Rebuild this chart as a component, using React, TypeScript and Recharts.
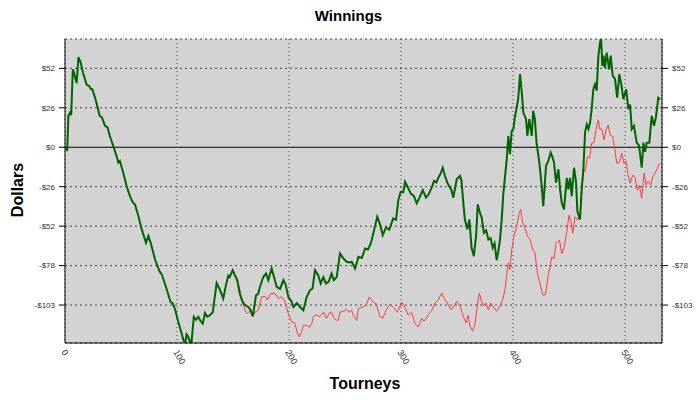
import { LineChart, Line, XAxis, YAxis, CartesianGrid } from "recharts";

// tourney number / running winnings
const WIN_T = [
  0, 1, 2, 3, 4.5, 5.5, 7, 8, 10.4, 12, 14, 16, 19.3, 21.7, 23.2, 24.4, 26.8, 28.8, 31, 33,
  35.7, 38, 40, 43, 46, 47.6, 49, 52, 55, 58, 60.4, 62.5, 65.5, 68.5, 72.3, 74.4, 76.5, 80.4, 84.2, 86.5,
  90.8, 94.3, 96, 98.2, 101, 104, 106, 107.5, 108.6, 110, 111.6, 113, 115, 117, 119, 121, 123, 125, 127, 129.5,
  132, 133, 135.4, 137.8, 141.3, 143.8, 145.8, 147, 149.7, 151.8, 153.8, 156, 158.6, 160.7, 163.7, 165.8, 167.6, 168.5, 170.5, 172.5,
  174, 177, 179.5, 181.5, 184.5, 186.6, 189, 192, 195, 197, 199.4, 202.4, 204, 207, 209.8, 212.8, 215.8, 218.75, 221, 223.2,
  226, 228.3, 230.6, 233, 235.5, 238, 240, 242.6, 245.5, 248.5, 251.5, 254, 256, 259, 262, 265, 267.9, 270.5, 273, 275.3,
  277.7, 278.8, 281, 283.7, 286.6, 289.5, 293, 295.5, 297.6, 299.7, 302, 303.6, 305.6, 308.6, 311.5, 314, 316.5, 319.4, 322.3, 324.5,
  327.4, 329.5, 331.5, 333.3, 335.5, 337.2, 339.3, 341.3, 343.75, 345, 346.7, 349.7, 352.7, 354, 355.6, 357, 359.2, 361, 363, 365,
  367, 368.5, 370.5, 372, 374, 376, 378, 380, 381.9, 383.5, 385.4, 386.9, 388.4, 389.9, 391.3, 392.9, 394.4, 395.8, 397.3, 398.8,
  400.3, 401.8, 403.3, 404.7, 406.25, 407.8, 409.2, 411.6, 412.8, 414.5, 416.7, 418, 419.5, 421, 423.5, 425.6, 427, 429.5, 431.5, 433.6,
  435, 436.6, 438.4, 440.5, 442, 443.5, 445.5, 448, 449.4, 450.9, 452.4, 454.5, 456.3, 457.4, 459.8, 461.3, 462.8, 464.3, 465.8, 467.3,
  468.75, 470.2, 471.7, 473.2, 474.7, 476.2, 477.7, 478.6, 479.7, 480.8, 482, 483.6, 485.7, 487.2, 489, 491, 493, 494.9, 496.9, 498.5,
  501, 503, 504.5, 506, 508, 510.4, 512.5, 514.9, 516.4, 517.9, 519.4, 521.7, 523.8, 525.9, 527.6, 529.7, 531.25,
];
const WIN_V = [
  0, 0, -2.5, 20.5, 22.7, 21, 51, 49, 42, 59, 55.5, 49, 41, 40, 38, 38, 32.5, 27, 20.5, 19.5,
  14, 13, 7.4, 1, -5.7, -10, -9, -16.7, -25.4, -32, -36, -37.5, -45, -53.8, -62.6, -58, -62.6, -73.5, -81, -83.5,
  -93, -101.5, -102, -106, -114, -121.6, -127, -127.5, -122.5, -124, -127.5, -127.5, -111, -113, -111, -113.7, -115.5, -108.5, -111, -110,
  -108, -102, -89, -92.5, -99, -90, -84, -85, -80.5, -84, -87, -95.8, -101.3, -103.5, -104.6, -106.8, -110.7, -106.8, -97, -96,
  -91.5, -85, -82.7, -87, -79.4, -85, -91.5, -92.8, -87, -90, -98, -101.3, -104.6, -102, -104.6, -106.8, -98, -93.6, -92.5, -80.5,
  -83.8, -89.2, -85, -89.2, -88, -82.7, -87, -85, -69.6, -72.8, -75, -75.5, -75, -79.4, -71.8, -72.5, -66.3, -67, -63, -56.4,
  -48.8, -45.5, -50, -57.5, -52.5, -54, -46.6, -47.5, -34.6, -29.1, -29.5, -22.6, -25.5, -30.2, -32, -36.7, -33, -28, -33, -31,
  -26.5, -22, -23, -20, -17, -13.4, -18.8, -23.2, -26.5, -28, -33, -21, -18.8, -22, -36.3, -47.2, -53.8, -47.2, -65.9, -71.3,
  -58.2, -37.4, -43, -46, -56, -54.5, -60.4, -59.5, -65.9, -63, -74, -68, -60.4, -47.2, -30.8, -18.8, -7.9, 7.4, -4.6, 10.7,
  11.8, 20.5, 26, 32.5, 47.9, 35.8, 22.7, 18.4, 7.4, 18.4, 7.4, 23.8, 18.4, 3, -10, -25.4, -38.6, -12, -9, -3.5,
  -6, -10, -23.2, -14.4, -27.6, -36.3, -40.7, -20, -27.6, -20, -32, -13.4, -23.2, -41.8, -47.2, -27.6, -14.4, 9.6, 15, 12,
  16, 25, 38, 41.3, 37, 60, 68.6, 72, 53.3, 60, 52, 62, 51, 60, 46.8, 45, 32.5, 47.9, 40, 31.5,
  38, 25, 28, 11.8, 14, 3, 1, -13.4, 3, -3, 3, 3, 20.5, 14, 20, 32.5, 31.5,
];

const ALT_T = [
  151.8, 155.6, 157.7, 160.7, 162.8, 165, 167.6, 169.6, 172.5, 175.6, 178.6, 180.6, 183.6, 187.5, 190.5, 193.5, 196.4, 199.4, 202.4, 205,
  207.7, 209.2, 211, 212.8, 215.8, 218.5, 220.3, 221.7, 223.2, 224.7, 227, 228.5, 231, 233.4, 236.6, 238, 240, 242.6, 244, 245.5,
  248, 250, 251.5, 253.5, 256, 257.4, 259, 260.4, 262, 266.4, 269, 271.7, 274.5, 277.7, 281.25, 283.7, 286.6, 290, 293.4, 296.7,
  300.6, 303.6, 306.5, 309.5, 312.5, 315.5, 318.5, 320.5, 322.5, 324.4, 327.4, 330.4, 333.3, 336.3, 339.3, 342.2, 344.4, 346.7, 349.7, 352.7,
  355.6, 358, 359.8, 361.6, 364, 366, 367.6, 369.9, 371.5, 373.5, 375.8, 378, 380, 382.4, 385.4, 388.4, 390.8, 392.9, 395, 395.8,
  397.3, 398.8, 400.9, 403.3, 405.6, 406.8, 408.6, 410.7, 412.8, 415, 417.6, 419.6, 421.7, 424, 426.5, 427, 429, 431.5, 434.6, 436.6,
  438.4, 441.4, 443.5, 445.5, 448, 450, 451.8, 453.3, 455.4, 457.8, 459.8, 461.3, 462.8, 464.4, 466.4, 468.4, 470.2, 472.2, 474, 476.2,
  477.7, 479.2, 481.25, 483, 485, 486.6, 489, 491, 492.6, 494.9, 497, 499, 500.8, 502.4, 504.5, 506.9, 509, 511, 512.8, 514.9,
  517, 518.8, 520.8, 523, 524.8, 526.8, 528.8, 530.6,
];
const ALT_V = [
  -84, -91.5, -99, -106.8, -109, -107, -110.7, -108, -106.8, -98, -97.6, -100, -95.8, -95.8, -99, -98, -101.3, -109, -114.4, -115,
  -122, -124.3, -121.5, -116.6, -116.6, -117.9, -115.5, -111, -110, -110, -111, -110, -108, -112, -108, -108, -112, -113.3, -113.3, -108,
  -107.5, -106.8, -106.3, -108, -106.8, -110, -112, -113.3, -105.6, -104.6, -103, -98, -101, -102.4, -111, -112, -106.8, -102.8, -105, -108,
  -101.3, -105, -110, -108, -115.5, -117.7, -112, -114, -112, -109.6, -107, -102, -100, -95.4, -100, -103, -106.3, -105, -100.9, -104,
  -110.7, -115, -110, -117.3, -120.5, -116, -106.3, -95.4, -100, -104, -102, -106.3, -102, -104.5, -107.4, -104, -99.7, -93.2, -80, -75.7,
  -80, -67, -58.2, -51.6, -42.9, -40.7, -49.5, -53, -58.2, -60, -67, -69.2, -82.3, -88.8, -96.5, -97, -96.5, -83.8, -71.8, -73,
  -63, -60.8, -69.6, -66, -55.4, -44.4, -48.8, -56.4, -45.5, -47.7, -43.3, -30.2, -14.9, -16, -6.2, -7, 2.6, 3, 11.4, 17.9,
  11.4, 12, 4.8, 11.4, 14.6, 8, 7, -1.8, -10.5, -10, -3.9, -10.5, -9, -17, -23.6, -18.2, -20, -28, -25, -33.5,
  -17, -24.7, -22, -24.7, -19, -17, -13.8, -10.5,
];

const X_DOMAIN = [0, 533];
const Y_DOMAIN = [-128.2, 70.9];
const X_TICKS = [0, 100, 200, 300, 400, 500];
const X_MINOR = [0, 20, 40, 60, 80, 100, 120, 140, 160, 180, 200, 220, 240, 260, 280, 300, 320, 340, 360, 380, 400, 420, 440, 460, 480, 500, 520];
const Y_STEP = 103.34 / 4;
const Y_TICKS = [-4, -3, -2, -1, 0, 1, 2].map((k) => k * Y_STEP);
const Y_MINOR = Array.from({ length: 38 }, (_, i) => (i - 24) * (Y_STEP / 5));

const won = WIN_T.map((t, i) => ({ t, v: WIN_V[i] }));
const alt = ALT_T.map((t, i) => ({ t, v: ALT_V[i] }));

const FONT = "'Liberation Sans', Arial, sans-serif";

const fmtDollar = (v: number) => {
  const r = Math.round(Math.abs(v));
  if (r === 0) return "$0";
  return (v < 0 ? "-$" : "$") + r;
};

const XLabel = ({ x, y, payload }: any) => (
  <text
    x={x - 4}
    y={y + 1}
    transform={`rotate(60 ${x - 4} ${y + 1})`}
    fontSize={9}
    fontFamily={FONT}
    fill="#333"
    textAnchor="start"
  >
    {payload.value}
  </text>
);

// small marks straddling the frame
const HMark = ({ x, y }: any) => <line x1={x - 3} x2={x + 3} y1={y} y2={y} stroke="#000" />;
const VMark = ({ x, y }: any) => <line x1={x} x2={x} y1={y} y2={y + 5} stroke="#000" />;

const gridLine = (p: any) => {
  const zero = p.index === 4 && p.y1 === p.y2;
  return (
    <line
      key={p.key}
      x1={p.x1}
      y1={p.y1}
      x2={p.x2}
      y2={p.y2}
      stroke={zero ? "#000" : "#444"}
      strokeWidth={1}
      strokeDasharray={zero ? undefined : "2 3"}
    />
  );
};

const vGridLine = (p: any) => (
  <line key={p.key} x1={p.x1} y1={p.y1} x2={p.x2} y2={p.y2} stroke="#444" strokeDasharray="1 3" />
);

export default function App() {
  return (
    <div style={{ position: "absolute", left: 0, top: 0, width: 700, height: 400, background: "#fff", fontFamily: FONT }}>
      <div style={{ position: "absolute", left: 0, top: 7, width: 697, textAlign: "center", fontWeight: 700, fontSize: 15 }}>
        Winnings
      </div>
      <div
        style={{
          position: "absolute",
          left: 18,
          top: 190,
          fontWeight: 700,
          fontSize: 16,
          transform: "translate(-50%, -50%) rotate(-90deg)",
          whiteSpace: "nowrap",
        }}
      >
        Dollars
      </div>
      <div style={{ position: "absolute", left: 0, top: 375, width: 730, textAlign: "center", fontWeight: 700, fontSize: 16 }}>
        Tourneys
      </div>
      <LineChart width={700} height={400} margin={{ top: 39, right: 0, bottom: 0, left: 0 }}>
        <CartesianGrid
          fill="#d3d3d3"
          fillOpacity={1}
          horizontal={gridLine}
          vertical={vGridLine}
        />
        <XAxis
          type="number"
          dataKey="t"
          domain={X_DOMAIN}
          allowDataOverflow
          ticks={X_TICKS}
          interval={0}
          height={57}
          tickSize={0}
          tickMargin={8}
          tick={<XLabel />}
          axisLine={{ stroke: "#000" }}
          tickLine={false}
        />
        <XAxis
          xAxisId="bm"
          type="number"
          dataKey="t"
          domain={X_DOMAIN}
          allowDataOverflow
          ticks={X_MINOR}
          interval={0}
          orientation="bottom"
          mirror
          height={0}
          tickSize={0}
          tickMargin={0}
          tick={<VMark />}
          axisLine={false}
          tickLine={false}
        />
        <XAxis
          xAxisId="top"
          type="number"
          dataKey="t"
          domain={X_DOMAIN}
          allowDataOverflow
          ticks={X_MINOR}
          interval={0}
          orientation="top"
          mirror
          height={0}
          tickSize={4}
          tick={false}
          axisLine={{ stroke: "#000" }}
          tickLine={{ stroke: "#000" }}
        />
        <YAxis
          type="number"
          domain={Y_DOMAIN}
          allowDataOverflow
          ticks={Y_TICKS}
          interval={0}
          width={65}
          tickSize={6}
          tickMargin={4}
          tickFormatter={fmtDollar}
          tick={{ fontSize: 8, fill: "#333", fontFamily: FONT }}
          axisLine={{ stroke: "#000" }}
          tickLine={{ stroke: "#000" }}
        />
        <YAxis
          yAxisId="lm"
          type="number"
          domain={Y_DOMAIN}
          allowDataOverflow
          ticks={Y_MINOR}
          interval={0}
          mirror
          width={0}
          tickSize={0}
          tickMargin={0}
          tick={<HMark />}
          axisLine={false}
          tickLine={false}
        />
        <YAxis
          yAxisId="r"
          orientation="right"
          type="number"
          domain={Y_DOMAIN}
          allowDataOverflow
          ticks={Y_TICKS}
          interval={0}
          width={38}
          tickSize={6}
          tickMargin={4}
          tickFormatter={fmtDollar}
          tick={{ fontSize: 8, fill: "#333", fontFamily: FONT }}
          axisLine={{ stroke: "#000" }}
          tickLine={{ stroke: "#000" }}
        />
        <YAxis
          yAxisId="rm"
          orientation="right"
          type="number"
          domain={Y_DOMAIN}
          allowDataOverflow
          ticks={Y_MINOR}
          interval={0}
          mirror
          width={0}
          tickSize={0}
          tickMargin={0}
          tick={<HMark />}
          axisLine={false}
          tickLine={false}
        />
        <Line
          data={alt}
          dataKey="v"
          type="linear"
          stroke="#ff3b3b"
          strokeWidth={1}
          dot={false}
          isAnimationActive={false}
        />
        <Line
          data={won}
          dataKey="v"
          type="linear"
          stroke="#006400"
          strokeWidth={2}
          dot={false}
          isAnimationActive={false}
        />
      </LineChart>
    </div>
  );
}
